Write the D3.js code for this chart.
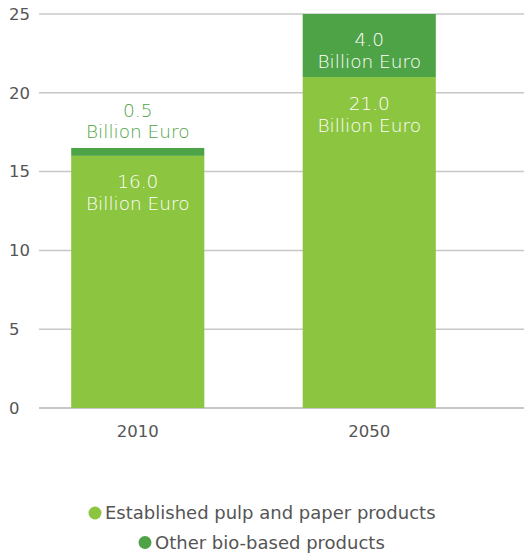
<!DOCTYPE html>
<html>
<head>
<meta charset="utf-8">
<script src="https://cdn.jsdelivr.net/npm/d3@7"></script>
<style>
  body { margin: 0; background: #fff; }
  svg text { font-family: "DejaVu Sans", sans-serif; }
</style>
</head>
<body>
<div id="chart"></div>
<script>
var years = ["2010", "2050"];
var established = [16.0, 21.0];
var other = [0.5, 4.0];
var seriesNames = ["Established pulp and paper products", "Other bio-based products"];
var yTicks = [0, 5, 10, 15, 20, 25];

var width = 524, height = 556;
var colors = ["#8cc540", "#4fa347"];

var svg = d3.select("#chart").append("svg")
    .attr("width", width)
    .attr("height", height);

var y = d3.scaleLinear().domain([0, 25]).range([408, 14]);
var x = d3.scaleBand().domain(years).range([22, 485]).paddingInner(0.425).paddingOuter(0.2125);

// gridlines + tick labels
svg.selectAll(".grid")
    .data(yTicks)
    .enter().append("line")
    .attr("x1", 39).attr("x2", width)
    .attr("y1", function (d) { return y(d); })
    .attr("y2", function (d) { return y(d); })
    .attr("stroke", function (d) { return d === 0 ? "#b5b5b5" : "#c8c8c8"; })
    .attr("stroke-width", 1.5);

svg.selectAll(".ytick")
    .data(yTicks)
    .enter().append("text")
    .attr("x", 9)
    .attr("y", function (d) { return y(d); })
    .attr("dy", "0.35em")
    .attr("fill", "#555")
    .style("font-size", "16.5px")
    .text(function (d) { return d; });

// stacked bars
var rows = years.map(function (yr, i) {
    return { year: yr, established: established[i], other: other[i] };
});
var stack = d3.stack().keys(["established", "other"]);
var layers = stack(rows);

svg.selectAll(".layer")
    .data(layers)
    .enter().append("g")
    .attr("fill", function (d, i) { return colors[i]; })
    .selectAll("rect")
    .data(function (d) { return d; })
    .enter().append("rect")
    .attr("x", function (d) { return x(d.data.year); })
    .attr("width", x.bandwidth())
    .attr("y", function (d) { return y(d[1]); })
    .attr("height", function (d) { return y(d[0]) - y(d[1]); });

// value labels
var labels = [];
layers.forEach(function (layer, li) {
    layer.forEach(function (d) {
        var v = d[1] - d[0];
        var top = y(d[1]);
        var inside = (y(d[0]) - top) > 40;
        labels.push({
            year: d.data.year,
            value: v,
            y1: inside ? top + 26 : top - 37,
            y2: inside ? top + 48 : top - 16,
            color: inside ? "#fff" : colors[1]
        });
    });
});

var lab = svg.selectAll(".vlabel")
    .data(labels)
    .enter().append("g");
lab.append("text")
    .attr("x", function (d) { return x(d.year) + x.bandwidth() / 2; })
    .attr("y", function (d) { return d.y1; })
    .attr("dy", "0.35em")
    .attr("text-anchor", "middle")
    .attr("fill", function (d) { return d.color; })
    .style("font-size", "18.5px")
    .style("font-weight", "300")
    .text(function (d) { return d.value.toFixed(1); });
lab.append("text")
    .attr("x", function (d) { return x(d.year) + x.bandwidth() / 2; })
    .attr("y", function (d) { return d.y2; })
    .attr("dy", "0.35em")
    .attr("text-anchor", "middle")
    .attr("fill", function (d) { return d.color; })
    .style("font-size", "18.5px")
    .style("font-weight", "300")
    .text("Billion Euro");

// x labels
svg.selectAll(".xlabel")
    .data(years)
    .enter().append("text")
    .attr("x", function (d) { return x(d) + x.bandwidth() / 2; })
    .attr("y", 431)
    .attr("dy", "0.35em")
    .attr("text-anchor", "middle")
    .attr("fill", "#555")
    .style("font-size", "16.5px")
    .text(function (d) { return d; });

// legend
var legend = svg.selectAll(".legend")
    .data(seriesNames)
    .enter().append("g")
    .attr("transform", function (d, i) { return "translate(" + (i === 0 ? 95 : 145) + "," + (513 + i * 29.5) + ")"; });
legend.append("circle")
    .attr("r", 6.5)
    .attr("fill", function (d, i) { return colors[i]; });
legend.append("text")
    .attr("x", 10)
    .attr("dy", "0.35em")
    .attr("fill", "#555")
    .style("font-size", "18px")
    .text(function (d) { return d; });
</script>
</body>
</html>
